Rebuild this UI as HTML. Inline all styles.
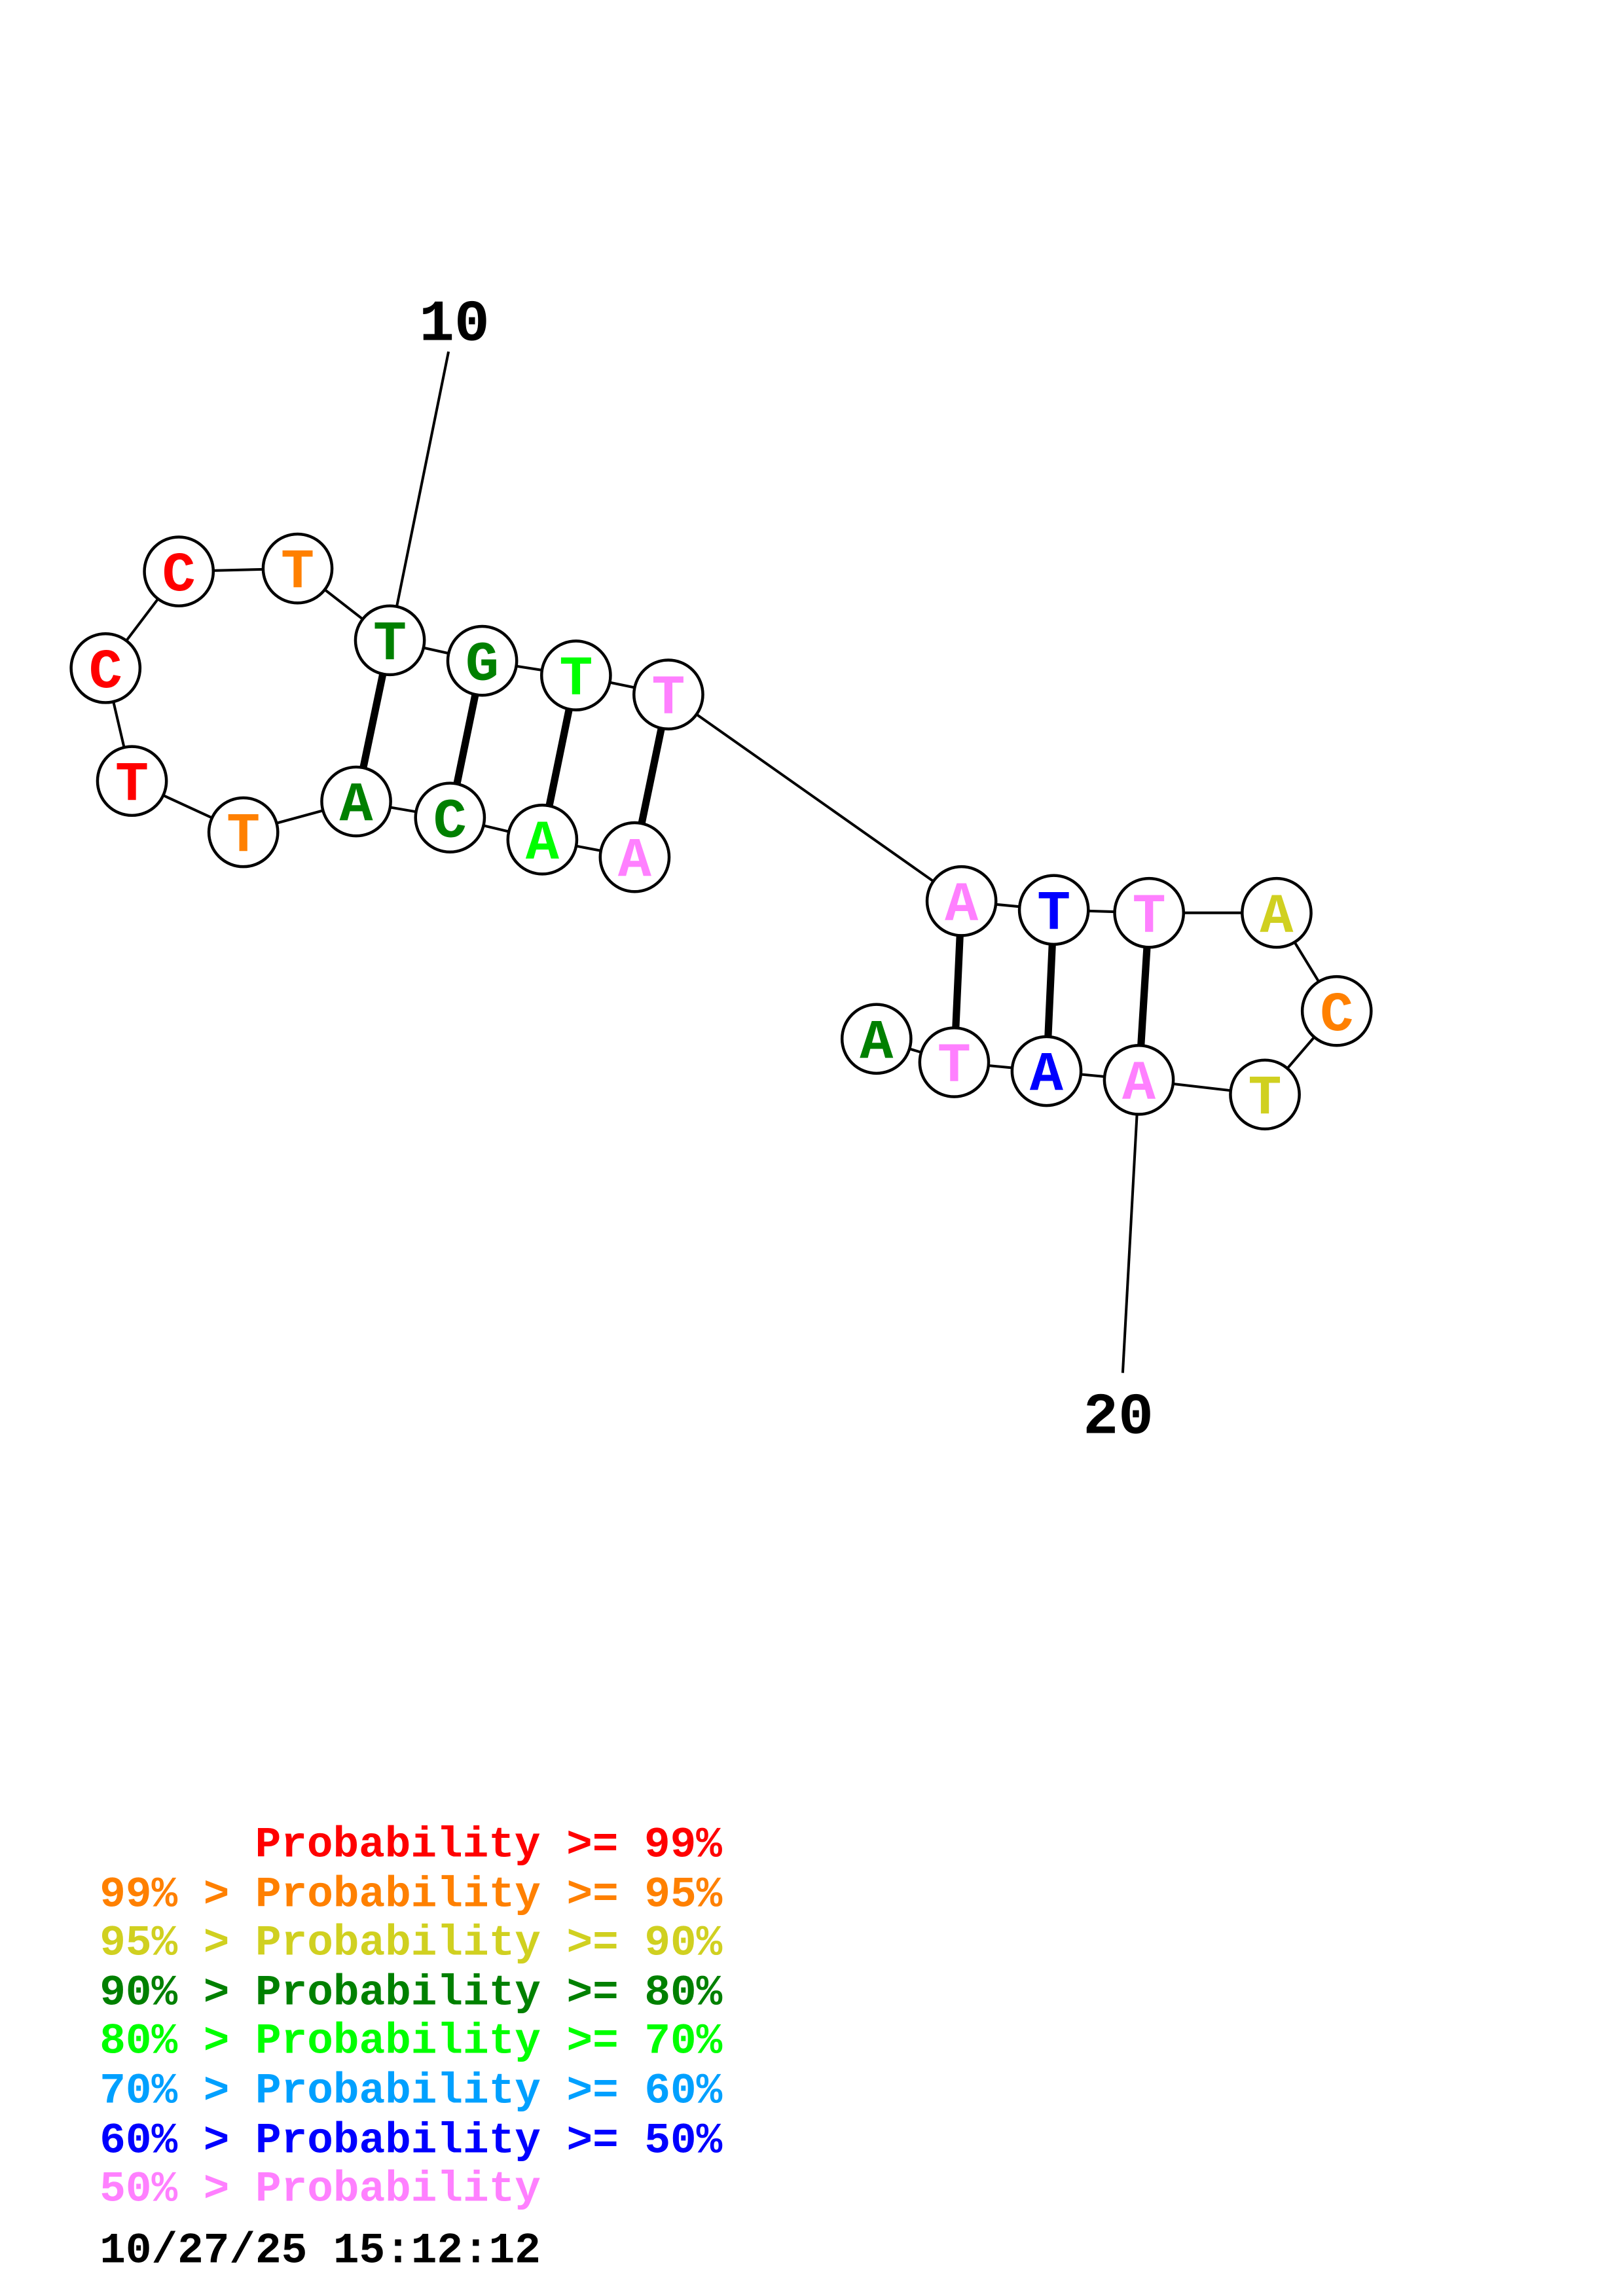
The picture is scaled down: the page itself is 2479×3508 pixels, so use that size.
<!DOCTYPE html>
<html><head><meta charset="utf-8"><style>html,body{margin:0;padding:0;background:#fff}svg{display:block}</style></head>
<body>
<svg xmlns="http://www.w3.org/2000/svg" width="2479" height="3508" viewBox="0 0 1107.3 1567">
<rect width="1107.3" height="1567" fill="#fff"/>
<g stroke="#000" stroke-width="1.8" fill="none">
<polyline points="598,709 651,725 714,731 777,737 863,747 912,690 871,623 784,623 719,621 656,615 456,474 393,461 329,451 266,437 203,388 122,390 72,456 90,533 166,568 243,547 307,558 370,573 433,585"/>
<line x1="306" y1="240" x2="266" y2="437"/>
<line x1="766" y1="937" x2="777" y2="737"/>
</g>
<g stroke="#000" stroke-width="5">
<line x1="266" y1="437" x2="243" y2="547"/>
<line x1="329" y1="451" x2="307" y2="558"/>
<line x1="393" y1="461" x2="370" y2="573"/>
<line x1="456" y1="474" x2="433" y2="585"/>
<line x1="656" y1="615" x2="651" y2="725"/>
<line x1="719" y1="621" x2="714" y2="731"/>
<line x1="784" y1="623" x2="777" y2="737"/>
</g>
<g stroke="#000" stroke-width="2" fill="#fff">
<circle cx="72" cy="456" r="23.5"/><circle cx="122" cy="390" r="23.5"/><circle cx="203" cy="388" r="23.5"/>
<circle cx="266" cy="437" r="23.5"/><circle cx="329" cy="451" r="23.5"/><circle cx="393" cy="461" r="23.5"/>
<circle cx="456" cy="474" r="23.5"/><circle cx="656" cy="615" r="23.5"/><circle cx="719" cy="621" r="23.5"/>
<circle cx="784" cy="623" r="23.5"/><circle cx="871" cy="623" r="23.5"/><circle cx="912" cy="690" r="23.5"/>
<circle cx="863" cy="747" r="23.5"/><circle cx="777" cy="737" r="23.5"/><circle cx="714" cy="731" r="23.5"/>
<circle cx="651" cy="725" r="23.5"/><circle cx="598" cy="709" r="23.5"/><circle cx="90" cy="533" r="23.5"/>
<circle cx="166" cy="568" r="23.5"/><circle cx="243" cy="547" r="23.5"/><circle cx="307" cy="558" r="23.5"/>
<circle cx="370" cy="573" r="23.5"/><circle cx="433" cy="585" r="23.5"/>
</g>
<g font-family="Liberation Mono, monospace" font-weight="bold" font-size="38" text-anchor="middle">
<text x="72" y="469" fill="#ff0000">C</text>
<text x="122" y="403" fill="#ff0000">C</text>
<text x="203" y="401" fill="#ff8000">T</text>
<text x="266" y="450" fill="#008000">T</text>
<text x="329" y="464" fill="#008000">G</text>
<text x="393" y="474" fill="#00ff00">T</text>
<text x="456" y="487" fill="#ff80ff">T</text>
<text x="656" y="628" fill="#ff80ff">A</text>
<text x="719" y="634" fill="#0000ff">T</text>
<text x="784" y="636" fill="#ff80ff">T</text>
<text x="871" y="636" fill="#d0d020">A</text>
<text x="912" y="703" fill="#ff8000">C</text>
<text x="863" y="760" fill="#d0d020">T</text>
<text x="777" y="750" fill="#ff80ff">A</text>
<text x="714" y="744" fill="#0000ff">A</text>
<text x="651" y="738" fill="#ff80ff">T</text>
<text x="598" y="722" fill="#008000">A</text>
<text x="90" y="546" fill="#ff0000">T</text>
<text x="166" y="581" fill="#ff8000">T</text>
<text x="243" y="560" fill="#008000">A</text>
<text x="307" y="571" fill="#008000">C</text>
<text x="370" y="586" fill="#00ff00">A</text>
<text x="433" y="598" fill="#ff80ff">A</text>
</g>
<g font-family="Liberation Mono, monospace" font-weight="bold" font-size="40" text-anchor="middle" fill="#000">
<text x="310" y="232">10</text>
<text x="763" y="978">20</text>
</g>
<g font-family="Liberation Mono, monospace" font-weight="bold" font-size="29.5">
<text x="174" y="1267" fill="#ff0000">Probability &gt;= 99%</text>
<text x="68" y="1301" fill="#ff8000">99% &gt; Probability &gt;= 95%</text>
<text x="68" y="1334" fill="#d0d020">95% &gt; Probability &gt;= 90%</text>
<text x="68" y="1368" fill="#008000">90% &gt; Probability &gt;= 80%</text>
<text x="68" y="1401" fill="#00ff00">80% &gt; Probability &gt;= 70%</text>
<text x="68" y="1435" fill="#00a0ff">70% &gt; Probability &gt;= 60%</text>
<text x="68" y="1469" fill="#0000ff">60% &gt; Probability &gt;= 50%</text>
<text x="68" y="1502" fill="#ff80ff">50% &gt; Probability</text>
<text x="68" y="1544" fill="#000">10/27/25 15:12:12</text>
</g>
</svg>
</body></html>
